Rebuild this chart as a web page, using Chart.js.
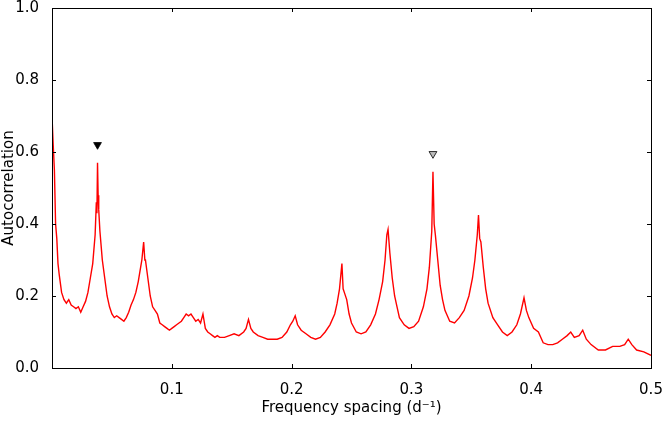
<!DOCTYPE html>
<html><head><meta charset="utf-8">
<script src="https://cdn.jsdelivr.net/npm/chart.js@4"></script>
<style>html,body{margin:0;padding:0;background:#fff}#w{width:662px;height:421px}</style>
</head><body><div id="w"><canvas id="c"></canvas></div>
<script>
const freq=[0.000,0.001,0.002,0.003,0.004,0.005,0.006,0.008,0.010,0.012,0.014,0.016,0.018,0.020,0.022,0.024,0.026,0.028,0.030,0.032,0.034,0.036,0.037,0.0375,0.038,0.0385,0.039,0.040,0.042,0.044,0.046,0.048,0.050,0.052,0.054,0.056,0.058,0.060,0.062,0.064,0.066,0.068,0.070,0.072,0.074,0.075,0.0765,0.0775,0.078,0.080,0.082,0.084,0.086,0.088,0.090,0.092,0.094,0.096,0.098,0.100,0.102,0.104,0.106,0.108,0.110,0.112,0.114,0.116,0.118,0.120,0.122,0.124,0.126,0.128,0.130,0.132,0.134,0.136,0.138,0.140,0.144,0.148,0.152,0.156,0.160,0.162,0.164,0.166,0.168,0.172,0.176,0.180,0.184,0.188,0.192,0.196,0.199,0.201,0.203,0.205,0.208,0.212,0.216,0.220,0.224,0.228,0.232,0.236,0.238,0.240,0.242,0.243,0.244,0.246,0.248,0.250,0.254,0.258,0.262,0.266,0.270,0.273,0.276,0.278,0.2795,0.2805,0.282,0.284,0.286,0.288,0.290,0.294,0.298,0.302,0.306,0.310,0.313,0.315,0.317,0.318,0.319,0.320,0.322,0.324,0.326,0.328,0.332,0.336,0.340,0.344,0.348,0.351,0.353,0.355,0.356,0.357,0.358,0.360,0.362,0.364,0.368,0.372,0.376,0.380,0.384,0.388,0.391,0.394,0.396,0.398,0.402,0.406,0.410,0.414,0.418,0.422,0.426,0.430,0.433,0.436,0.440,0.443,0.446,0.450,0.456,0.462,0.468,0.474,0.478,0.481,0.484,0.488,0.494,0.500];
const acf=[0.70,0.62,0.55,0.40,0.36,0.29,0.26,0.21,0.19,0.18,0.19,0.175,0.17,0.165,0.17,0.155,0.17,0.185,0.21,0.25,0.29,0.37,0.46,0.43,0.57,0.48,0.44,0.38,0.30,0.25,0.20,0.17,0.15,0.14,0.145,0.14,0.135,0.13,0.14,0.155,0.175,0.19,0.21,0.24,0.28,0.30,0.35,0.30,0.30,0.25,0.20,0.17,0.16,0.15,0.125,0.12,0.115,0.11,0.105,0.11,0.115,0.12,0.125,0.13,0.14,0.15,0.145,0.15,0.14,0.13,0.135,0.125,0.15,0.11,0.10,0.095,0.09,0.085,0.09,0.085,0.085,0.09,0.095,0.09,0.10,0.11,0.135,0.11,0.10,0.09,0.085,0.08,0.08,0.08,0.085,0.10,0.12,0.13,0.145,0.12,0.105,0.095,0.085,0.08,0.085,0.10,0.12,0.15,0.18,0.22,0.29,0.22,0.21,0.19,0.15,0.125,0.10,0.095,0.10,0.12,0.15,0.19,0.24,0.30,0.37,0.385,0.32,0.25,0.20,0.17,0.14,0.12,0.11,0.115,0.13,0.17,0.22,0.28,0.38,0.545,0.40,0.37,0.30,0.23,0.19,0.16,0.13,0.125,0.14,0.16,0.20,0.25,0.30,0.37,0.425,0.36,0.35,0.28,0.22,0.18,0.14,0.12,0.10,0.09,0.10,0.12,0.15,0.195,0.16,0.14,0.11,0.10,0.07,0.065,0.065,0.07,0.08,0.09,0.10,0.085,0.09,0.105,0.08,0.065,0.05,0.05,0.06,0.06,0.065,0.08,0.065,0.05,0.045,0.035];
const markerX=[0.038,0.318];
const markerY=[0.62,0.595];
const markerFill=['#000000','#bbbbbb'];
const xTicks=[0.1,0.2,0.3,0.4,0.5];
const yTicks=[0.0,0.2,0.4,0.6,0.8,1.0];

const frame={id:'frame',afterDraw(ch){const a=ch.chartArea,c=ch.ctx,xs=ch.scales.x,ys=ch.scales.y;
c.save();c.strokeStyle='#000';c.lineWidth=1;c.strokeRect(a.left+0.5,a.top+0.5,a.right-a.left,a.bottom-a.top);
c.beginPath();xTicks.forEach(v=>{const p=Math.round(xs.getPixelForValue(v))+0.5;c.moveTo(p,a.bottom);c.lineTo(p,a.bottom-4);c.moveTo(p,a.top);c.lineTo(p,a.top+4);});
yTicks.forEach(v=>{const p=Math.round(ys.getPixelForValue(v))+0.5;c.moveTo(a.left,p);c.lineTo(a.left+4,p);c.moveTo(a.right,p);c.lineTo(a.right-4,p);});
c.stroke();c.restore();}};

new Chart(document.getElementById('c'),{
type:'scatter',
data:{datasets:[
{data:freq.map((f,i)=>({x:f,y:acf[i]})),showLine:true,borderColor:'#ff0000',borderWidth:1.4,pointRadius:0,tension:0},
{data:markerX.map((f,i)=>({x:f,y:markerY[i]})),pointStyle:'triangle',rotation:180,pointRadius:4.5,backgroundColor:markerFill,borderColor:'#000',borderWidth:0.8}
]},
options:{responsive:true,maintainAspectRatio:false,animation:false,
layout:{padding:{left:0,right:0,top:0,bottom:0}},
plugins:{legend:{display:false},tooltip:{enabled:false}},
scales:{
x:{type:'linear',min:0,max:0.5,afterBuildTicks(s){s.ticks=xTicks.map(v=>({value:v}));},
grid:{display:false},border:{display:false},
ticks:{color:'#000',font:{family:'DejaVu Sans',size:15},padding:5,maxRotation:0,callback:v=>v.toFixed(1)},
title:{display:true,text:'Frequency spacing (d⁻¹)',color:'#000',font:{family:'DejaVu Sans',size:15},padding:{top:2,bottom:4}},
afterFit(s){s.height=53;s.paddingRight=11;}},
y:{type:'linear',min:0,max:1,afterBuildTicks(s){s.ticks=yTicks.map(v=>({value:v}));},
grid:{display:false},border:{display:false},
ticks:{color:'#000',font:{family:'DejaVu Sans',size:15},padding:5,callback:v=>v.toFixed(1)},
title:{display:true,text:'Autocorrelation',color:'#000',font:{family:'DejaVu Sans',size:15},padding:{top:0,bottom:0}},
afterFit(s){s.width=52;s.paddingTop=8;}}
}},
plugins:[frame]});
</script></body></html>
